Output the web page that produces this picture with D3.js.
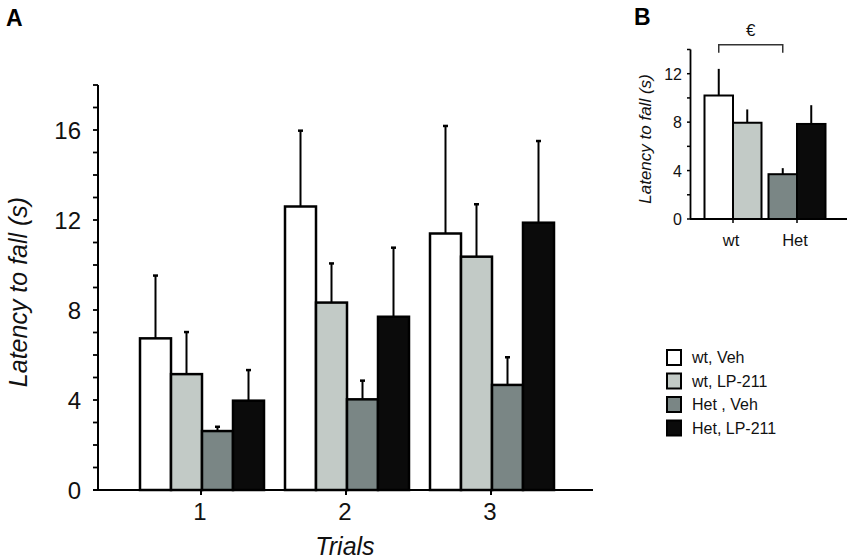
<!DOCTYPE html>
<html>
<head>
<meta charset="utf-8">
<script src="https://cdn.jsdelivr.net/npm/d3@7/dist/d3.min.js"></script>
<style>
  html, body { margin: 0; padding: 0; background: #ffffff; }
  svg { display: block; font-family: "Liberation Sans", Arial, Helvetica, sans-serif; }
</style>
</head>
<body>
<svg id="chart" width="850" height="560"></svg>
<script>
// ---- Data ----
const trials = ["1", "2", "3"];
const groups = ["wt, Veh", "wt, LP-211", "Het , Veh", "Het, LP-211"];
const groupColors = ["#ffffff", "#c2cac6", "#7a8685", "#0b0b0b"];
// Panel A: mean latency per trial (rows = trials, cols = groups)
const meansA = [
  [6.74, 5.15, 2.62, 3.97],
  [12.6, 8.33, 4.03, 7.70],
  [11.4, 10.37, 4.67, 11.88]
];
const semA = [
  [2.79, 1.87, 0.19, 1.36],
  [3.37, 1.74, 0.83, 3.07],
  [4.78, 2.33, 1.23, 3.63]
];
const yTicksA = [0, 4, 8, 12, 16];
// Panel B: average over trials
const genotypes = ["wt", "Het"];
const meansB = [10.2, 7.95, 3.7, 7.85];
const semB = [2.2, 1.1, 0.5, 1.55];
const yTicksB = [0, 4, 8, 12];
const sigLabel = "€";

const svg = d3.select("#chart");

// ===== Panel A =====
const yA = d3.scaleLinear().domain([0, 18]).range([490, 85]);
const xA = d3.scaleBand().domain(trials).range([128.5, 563.5]);
const groupW = 124;
const xInA = d3.scaleBand().domain(groups).range([0, groupW]);
const gA = svg.append("g");

trials.forEach((t, ti) => {
  const x0 = xA(t) + (xA.bandwidth() - groupW) / 2 + 1;
  groups.forEach((g, gi) => {
    const bx = x0 + xInA(g);
    const v = meansA[ti][gi];
    gA.append("rect")
      .attr("x", bx).attr("y", yA(v))
      .attr("width", xInA.bandwidth()).attr("height", yA(0) - yA(v))
      .attr("fill", groupColors[gi]).attr("stroke", "#000").attr("stroke-width", 2.5);
    const cx = bx + xInA.bandwidth() / 2;
    const top = v + semA[ti][gi];
    gA.append("line").attr("x1", cx).attr("x2", cx)
      .attr("y1", yA(v)).attr("y2", yA(top))
      .attr("stroke", "#000").attr("stroke-width", 2);
    gA.append("line").attr("x1", cx - 2.5).attr("x2", cx + 2.5)
      .attr("y1", yA(top)).attr("y2", yA(top))
      .attr("stroke", "#000").attr("stroke-width", 2.5);
  });
});

// y axis
gA.append("line").attr("x1", 98).attr("x2", 98).attr("y1", yA(18)).attr("y2", yA(0))
  .attr("stroke", "#000").attr("stroke-width", 2);
d3.range(0, 19).forEach(v => {
  gA.append("line").attr("x1", 93).attr("x2", 98).attr("y1", yA(v)).attr("y2", yA(v))
    .attr("stroke", "#000").attr("stroke-width", 1.8);
});
yTicksA.forEach(v => {
  gA.append("text").attr("x", 81).attr("y", yA(v) + 8.5)
    .attr("text-anchor", "end").attr("font-size", 24).attr("fill", "#111").text(v);
});
// x axis
gA.append("line").attr("x1", 93).attr("x2", 593).attr("y1", yA(0)).attr("y2", yA(0))
  .attr("stroke", "#000").attr("stroke-width", 2);
trials.forEach(t => {
  const cx = xA(t) + xA.bandwidth() / 2;
  gA.append("line").attr("x1", cx).attr("x2", cx).attr("y1", yA(0)).attr("y2", yA(0) + 5)
    .attr("stroke", "#000").attr("stroke-width", 2);
  gA.append("text").attr("x", cx - 1).attr("y", 520)
    .attr("text-anchor", "middle").attr("font-size", 24).attr("fill", "#111").text(t);
});
gA.append("text").attr("x", 345).attr("y", 555).attr("text-anchor", "middle")
  .attr("font-size", 25).attr("font-style", "italic").attr("fill", "#111").text("Trials");
gA.append("text").attr("transform", "translate(27,292) rotate(-90)")
  .attr("text-anchor", "middle").attr("font-size", 25).attr("font-style", "italic")
  .attr("fill", "#111").text("Latency to fall (s)");
svg.append("text").attr("x", 6).attr("y", 26).attr("font-size", 23)
  .attr("font-weight", "bold").attr("fill", "#000").text("A");

// ===== Panel B =====
const yB = d3.scaleLinear().domain([0, 14]).range([219, 49.5]);
const xB = d3.scaleBand().domain(genotypes).range([701, 829]);
const barWB = 28.5;
const gB = svg.append("g");
const barCentersB = [];
genotypes.forEach((gt, gi) => {
  const c = xB(gt) + xB.bandwidth() / 2;
  [0, 1].forEach(k => {
    const idx = gi * 2 + k;
    const bx = k === 0 ? c - barWB : c;
    const v = meansB[idx];
    gB.append("rect").attr("x", bx).attr("y", yB(v))
      .attr("width", barWB).attr("height", yB(0) - yB(v))
      .attr("fill", groupColors[idx]).attr("stroke", "#000").attr("stroke-width", 2);
    const cx = bx + barWB / 2;
    barCentersB.push(cx);
    gB.append("line").attr("x1", cx).attr("x2", cx)
      .attr("y1", yB(v)).attr("y2", yB(v + semB[idx]))
      .attr("stroke", "#000").attr("stroke-width", 2);
  });
  gB.append("line").attr("x1", c).attr("x2", c).attr("y1", yB(0)).attr("y2", yB(0) + 4)
    .attr("stroke", "#000").attr("stroke-width", 1.5);
  gB.append("text").attr("x", c - 2).attr("y", 246).attr("text-anchor", "middle")
    .attr("font-size", 16.5).attr("fill", "#111").text(gt);
});
// y axis B
gB.append("line").attr("x1", 690.5).attr("x2", 690.5).attr("y1", yB(14)).attr("y2", yB(0))
  .attr("stroke", "#000").attr("stroke-width", 1.8);
d3.range(0, 15, 2).forEach(v => {
  gB.append("line").attr("x1", 687).attr("x2", 690.5).attr("y1", yB(v)).attr("y2", yB(v))
    .attr("stroke", "#000").attr("stroke-width", 1.5);
});
yTicksB.forEach(v => {
  gB.append("text").attr("x", 682).attr("y", yB(v) + 6)
    .attr("text-anchor", "end").attr("font-size", 16).attr("fill", "#111").text(v);
});
gB.append("line").attr("x1", 690).attr("x2", 847).attr("y1", yB(0)).attr("y2", yB(0))
  .attr("stroke", "#000").attr("stroke-width", 1.8);
gB.append("text").attr("transform", "translate(651,139) rotate(-90)")
  .attr("text-anchor", "middle").attr("font-size", 17).attr("font-style", "italic")
  .attr("fill", "#111").text("Latency to fall (s)");
// significance bracket
const bx1 = barCentersB[0], bx2 = barCentersB[2], by = yB(14.4);
gB.append("path")
  .attr("d", `M${bx1},${by + 8}V${by}H${bx2}V${by + 8}`)
  .attr("fill", "none").attr("stroke", "#333").attr("stroke-width", 1.5);
gB.append("text").attr("x", (bx1 + bx2) / 2).attr("y", 36).attr("text-anchor", "middle")
  .attr("font-size", 17).attr("fill", "#111").text(sigLabel);
svg.append("text").attr("x", 634).attr("y", 25).attr("font-size", 23)
  .attr("font-weight", "bold").attr("fill", "#000").text("B");

// ===== Legend =====
const lg = svg.append("g");
groups.forEach((g, i) => {
  const y0 = 350 + i * 23.5;
  lg.append("rect").attr("x", 667).attr("y", y0).attr("width", 14).attr("height", 15)
    .attr("fill", groupColors[i]).attr("stroke", "#000").attr("stroke-width", 2);
  lg.append("text").attr("x", 692).attr("y", y0 + 13).attr("font-size", 16)
    .attr("fill", "#111").text(g);
});
</script>
</body>
</html>
